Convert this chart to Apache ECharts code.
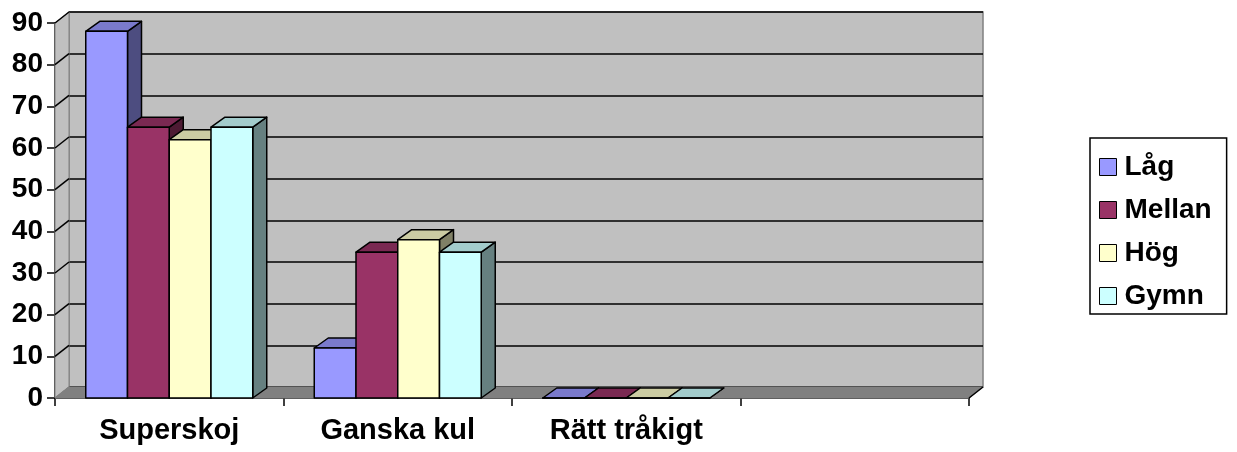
<!DOCTYPE html>
<html>
<head>
<meta charset="utf-8">
<script src="https://cdn.jsdelivr.net/npm/echarts@6/dist/echarts.min.js"></script>
<style>html,body{margin:0;padding:0;background:#fff;}#c{width:1237px;height:452px;}</style>
</head>
<body>
<div id="c"></div>
<script>
const categories = ['Superskoj', 'Ganska kul', 'Rätt tråkigt', ''];
const seriesNames = ['Låg', 'Mellan', 'Hög', 'Gymn'];
const lag    = [88, 12, 0];
const mellan = [65, 35, 0];
const hog    = [62, 38, 0];
const gymn   = [65, 35, 0];
const yTicks = [0, 10, 20, 30, 40, 50, 60, 70, 80, 90];

const frontColors = ['#9999FF', '#993366', '#FFFFCC', '#CCFFFF'];
const topColors   = ['#7A7ACC', '#7A2952', '#CCCCA3', '#A3CCCC'];
const sideColors  = ['#4D4D80', '#4D1A33', '#808066', '#668080'];
const values = [lag, mellan, hog, gymn];

const DX = 14, DY = 11;      // wall depth
const BDX = 14, BDY = 10;    // bar depth
const FONT = 'Liberation Sans, Arial, sans-serif';

function barSeries(idx) {
  return {
    name: seriesNames[idx],
    type: 'custom',
    xAxisIndex: 0, yAxisIndex: 0,
    z: 3,
    itemStyle: { color: frontColors[idx], borderColor: '#000', borderWidth: 1 },
    data: values[idx].map((v, c) => [c, v]),
    renderItem: function (params, api) {
      const c = api.value(0), v = api.value(1);
      const base = api.coord([c, 0]);
      const top = api.coord([c, v]);
      const band = api.size([1, 0])[0];
      const bw = band * 0.1827;
      const x0 = base[0] + (idx - 2) * bw;
      const y0 = base[1], y1 = top[1];
      const st = { stroke: '#000', lineWidth: 1.5, lineJoin: 'round' };
      return {
        type: 'group',
        children: [
          { type: 'polygon', shape: { points: [[x0 + bw, y1], [x0 + bw + BDX, y1 - BDY], [x0 + bw + BDX, y0 - BDY], [x0 + bw, y0]] },
            style: Object.assign({ fill: sideColors[idx] }, st) },
          { type: 'polygon', shape: { points: [[x0, y1], [x0 + BDX, y1 - BDY], [x0 + bw + BDX, y1 - BDY], [x0 + bw, y1]] },
            style: Object.assign({ fill: topColors[idx] }, st) },
          { type: 'rect', shape: { x: x0, y: y1, width: bw, height: y0 - y1 },
            style: Object.assign({ fill: frontColors[idx] }, st) }
        ]
      };
    }
  };
}

const chart = echarts.init(document.getElementById('c'), null, { renderer: 'canvas' });
const option = {
  backgroundColor: '#fff',
  animation: false,
  grid: [
    { left: 55, right: 268, top: 23, bottom: 54 },
    { left: 55 + DX, right: 268 - DX, top: 23 - DY, bottom: 54 + DY,
      show: true, backgroundColor: '#C0C0C0', borderColor: '#808080', borderWidth: 1.5 }
  ],
  legend: {
    orient: 'vertical',
    left: 1090, top: 138,
    padding: [15, 15, 4, 9],
    itemGap: 15,
    itemWidth: 17, itemHeight: 17,
    icon: 'rect',
    borderColor: '#000', borderWidth: 1.5,
    itemStyle: { borderColor: '#000', borderWidth: 1 },
    textStyle: { fontFamily: FONT, fontWeight: 'bold', fontSize: 28, color: '#000', padding: [0, 0, 0, 3] },
    data: seriesNames
  },
  xAxis: [
    { type: 'category', gridIndex: 0, data: categories, boundaryGap: true,
      axisLine: { show: true, lineStyle: { color: '#000', width: 1.5 } },
      axisTick: { show: true, length: 8, alignWithLabel: false, lineStyle: { color: '#000', width: 1.5 } },
      axisLabel: { fontFamily: FONT, fontWeight: 'bold', fontSize: 29, color: '#000', margin: 18, interval: 0 },
      splitLine: { show: false } },
    { type: 'category', gridIndex: 1, data: categories, show: false }
  ],
  yAxis: [
    { type: 'value', gridIndex: 0, min: 0, max: 90, interval: 10,
      axisLine: { show: true, lineStyle: { color: '#000', width: 1.5 } },
      axisTick: { show: true, length: 8, lineStyle: { color: '#000', width: 1.5 } },
      axisLabel: { fontFamily: FONT, fontWeight: 'bold', fontSize: 28, color: '#000', margin: 12 },
      splitLine: { show: false } },
    { type: 'value', gridIndex: 1, min: 0, max: 90, interval: 10,
      axisLine: { show: false }, axisTick: { show: false }, axisLabel: { show: false },
      splitLine: { show: true, lineStyle: { color: '#000', width: 1.5 } } }
  ],
  series: [
    {
      name: 'frame', type: 'custom', xAxisIndex: 0, yAxisIndex: 0, z: 1, silent: true,
      legendHoverLink: false,
      data: yTicks.map(t => [0, t]),
      renderItem: function (params, api) {
        const cs = params.coordSys;
        const x = cs.x, w = cs.width, yb = cs.y + cs.height, yt = cs.y;
        const y = api.coord([0, api.value(1)])[1];
        const children = [];
        if (params.dataIndex === 0) {
          children.push({ type: 'polygon', shape: { points: [[x, yt], [x + DX, yt - DY], [x + DX, yb - DY], [x, yb]] },
            style: { fill: '#C0C0C0', stroke: '#808080', lineWidth: 1 } });
          children.push({ type: 'polygon', shape: { points: [[x, yb], [x + DX, yb - DY], [x + w + DX, yb - DY], [x + w, yb]] },
            style: { fill: '#808080', stroke: '#808080', lineWidth: 1 } });
          children.push({ type: 'line', shape: { x1: x + w, y1: yb, x2: x + w + DX, y2: yb - DY },
            style: { stroke: '#000', lineWidth: 1.5 } });
        }
        children.push({ type: 'line', shape: { x1: x, y1: y, x2: x + DX, y2: y - DY },
          style: { stroke: api.value(1) === 0 ? '#808080' : '#000', lineWidth: 1.5 } });
        return { type: 'group', children: children };
      }
    },
    barSeries(0), barSeries(1), barSeries(2), barSeries(3)
  ]
};
chart.setOption(option);
</script>
</body>
</html>
